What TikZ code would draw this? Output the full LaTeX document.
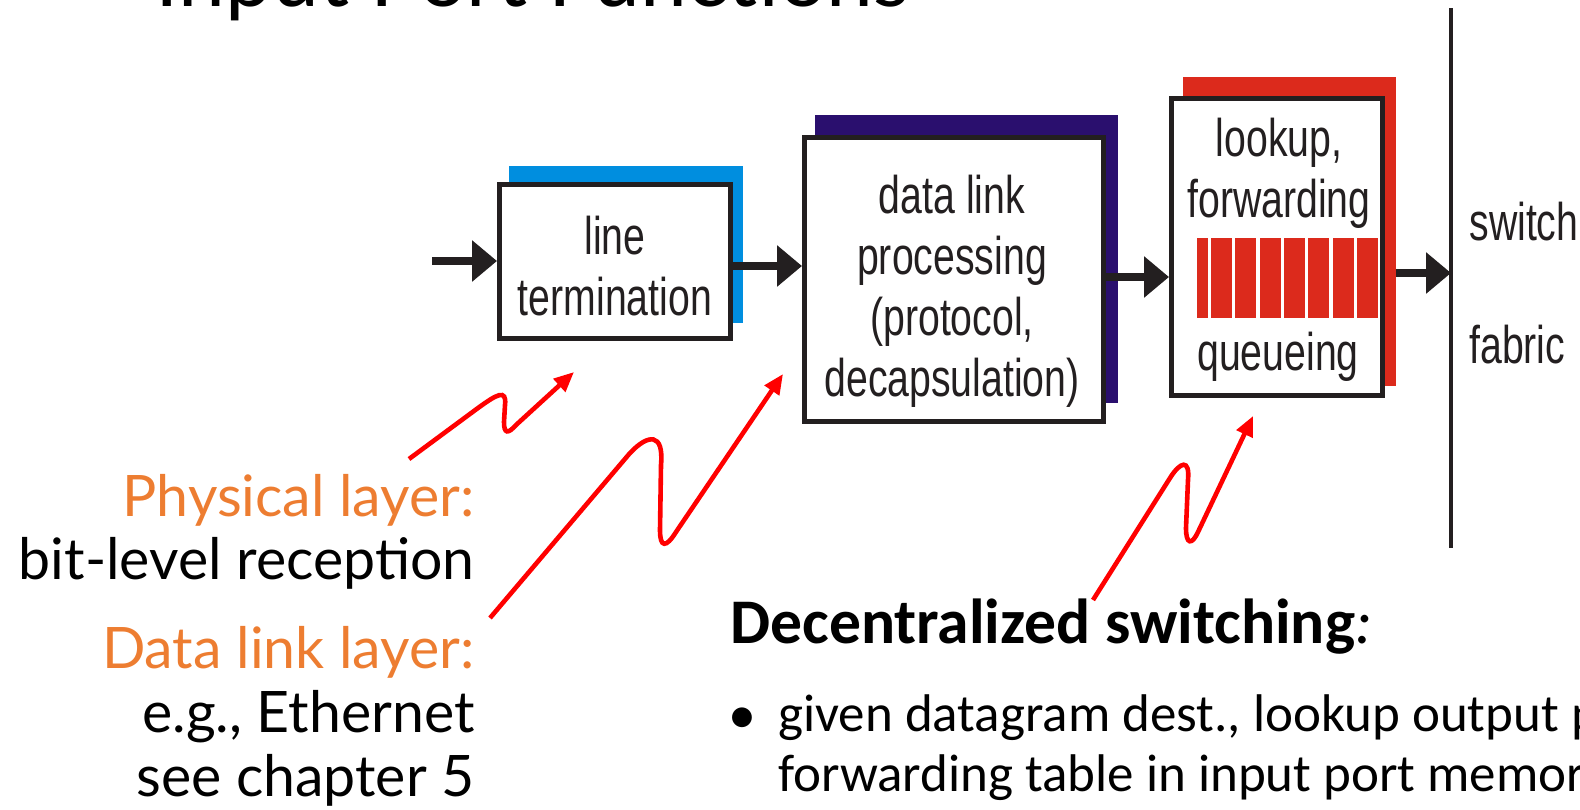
\documentclass[tikz,border=0pt]{standalone}
\usepackage{fontspec}
\setmainfont{Liberation Sans}
\newfontfamily\boxfont[FakeStretch=0.74]{Liberation Sans}
\newfontfamily\comicfont{Lato}
\newfontfamily\calfont{Carlito}
\newfontfamily\titlefont{Lato}
\usetikzlibrary{arrows.meta,fit}
\definecolor{ink}{HTML}{231F20}
\definecolor{sblue}{HTML}{008EDF}
\definecolor{snavy}{HTML}{2A0F6E}
\definecolor{sred}{HTML}{DC2A1C}
\definecolor{lorange}{HTML}{ED7D31}
\begin{document}
\begin{tikzpicture}[x=0.5pt,y=-0.5pt,
  shadowbox/.style={fill=#1, draw=none, inner sep=0pt, outer sep=0pt},
  procbox/.style={draw=ink, line width=2.5pt, fill=white, inner sep=0pt},
  blk/.style={draw=ink, line width=3.6pt, -{Triangle[length=12.5pt,width=20pt]}},
  redarr/.style={draw=red, line width=2.3pt, -{Triangle[length=10pt,width=8.5pt]}},
  boxtxt/.style={font=\boxfont\fontsize{26.5}{30.5}\selectfont, align=center, inner sep=0pt, text=ink},
  lefttxt/.style={font=\comicfont\fontsize{28.6}{31.5}\selectfont, align=right, inner sep=0pt, anchor=base east},
  qbar/.style={fill=sred, draw=none}
]
\useasboundingbox (0,0) rectangle (1580,809);
\clip (0,0) rectangle (1580,809);

% title (cut off at top)
\node[font=\titlefont\fontsize{42}{48}\selectfont, anchor=base west, inner sep=0pt] (title) at (155,6) {Input Port Functions};

% shadows
\node[shadowbox=sblue, fit={(509,166) (743,323)}] (s1) {};
\node[shadowbox=snavy, fit={(815,115) (1118,403)}] (s2) {};
\node[shadowbox=sred, fit={(1183,77) (1396,386)}] (s3) {};

% boxes
\node[procbox, fit={(499.5,184.5) (730.5,338.5)}] (lt) {};
\node[procbox, fit={(804.5,137.5) (1103.5,421.5)}] (dl) {};
\node[procbox, fit={(1171.5,98.5) (1382.5,395.5)}] (lk) {};

% queue bars
\fill[qbar] (1197,238) rectangle (1208,318);
\foreach \k in {0,...,6}{
  \fill[qbar] ({1211+24.3*\k},238) rectangle ({1232+24.3*\k},318);
}

% box texts (anchor=base is the last line's baseline)
\node[boxtxt, anchor=base] (ltt) at (615,315) {line\\termination};
\node[boxtxt, anchor=base] (dlt) at (952,396) {data link\\processing\\(protocol,\\decapsulation)};
\node[boxtxt, anchor=base] (lkt) at (1279,217) {lookup,\\forwarding};
\node[boxtxt, anchor=base] (qt) at (1278,370) {queueing};

% switch fabric
\coordinate (fabTop) at (1451,8);
\coordinate (fabBot) at (1451,548);
\draw[ink, line width=2pt] (fabTop) -- (fabBot);
\node[boxtxt, anchor=base west] (sw) at (1469,240) {switch};
\node[boxtxt, anchor=base west] (fb) at (1469,363) {fabric};

% black arrows
\coordinate (in0) at (432,261);
\coordinate (y1) at (0,266);
\coordinate (y2) at (0,277);
\coordinate (y3) at (0,273);
\draw[blk] (in0) -- (lt.west |- in0);
\draw[blk] (lt.east |- y1) -- (dl.west |- y1);
\draw[blk] (dl.east |- y2) -- (lk.west |- y2);
\draw[blk] (s3.east |- y3) -- (fabTop |- y3);

% left texts
\node[lefttxt] (phys) at (475,579) {\textcolor{lorange}{Physical layer:}\\bit-level reception};
\node[lefttxt, font=\comicfont\fontsize{28.6}{32}\selectfont] (dll) at (475,796) {\textcolor{lorange}{Data link layer:}\\e.g., Ethernet\\see chapter 5};

% red squiggle arrows
\coordinate (aS) at (409,459);
\coordinate (aT) at (574,372);
\draw[redarr] (aS) -- (478,408) .. controls (496,395) and (507,388) .. (505,405) -- (504,422) .. controls (504,434) and (508,434) .. (516,425) -- (aT);
\coordinate (bS) at (490,618);
\coordinate (bT) at (783,374);
\draw[redarr] (bS) -- (630,453) .. controls (648,434) and (664,432) .. (661,465) -- (660,530) .. controls (660,548) and (666,548) .. (676,532) -- (bT);
\coordinate (cS) at (1093,600);
\coordinate (cT) at (1253,416);
\draw[redarr] (cS) -- (1170,478) .. controls (1180,462) and (1190,458) .. (1188,480) -- (1186,528) .. controls (1186,545) and (1192,545) .. (1198,532) -- (cT);

% decentralized switching
\node[font=\calfont\fontsize{31.8}{36}\selectfont, anchor=base west, inner sep=0pt] (dec) at (730,643) {\bfseries Decentralized switching{\mdseries\itshape :}};
\node[font=\calfont\fontsize{28}{30}\selectfont, anchor=base west, inner sep=0pt] (dot) at (728,733) {•};
\node[font=\calfont\fontsize{26.5}{30}\selectfont, anchor=base west, align=left, inner sep=0pt] (bul) at (778,791) {given datagram dest., lookup output port\\forwarding table in input port memory};
\end{tikzpicture}
\end{document}
